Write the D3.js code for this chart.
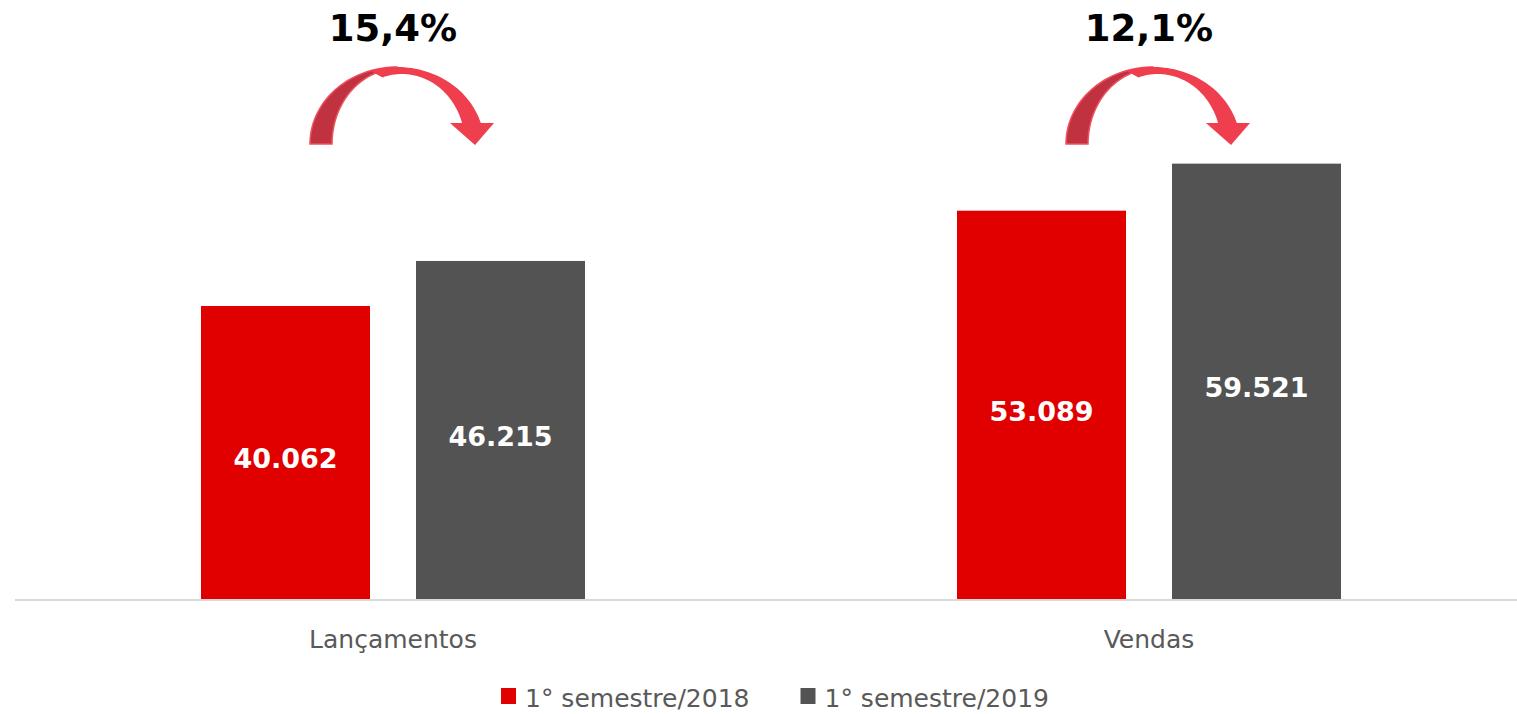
<!doctype html>
<html>
<head>
    <meta charset="UTF-8">
    <title>Lançamentos x Vendas</title>
    <script src="https://d3js.org/d3.v7.min.js"></script>
    <style>
        body { margin: 0; background: #fff; }
        svg text { font-family: Tahoma, "DejaVu Sans", sans-serif; }
    </style>
</head>
<body>
  <svg width="1517" height="714"></svg>
   <script>
       // data
       var categories = ["Lançamentos", "Vendas"];
       var series = ["1° semestre/2018", "1° semestre/2019"];
       var values2018 = [40062, 53089];
       var values2019 = [46215, 59521];
       var growth = ["15,4%", "12,1%"];
       var colors = ["#e10000", "#535353"];

       var svg = d3.select("svg");
       var fmt = function(v){
           return d3.format(",")(v).replace(/,/g, ".");
       };

       var x0 = d3.scaleBand().domain(categories).range([15, 1527]).padding(0);
       var x1 = d3.scaleBand().domain(series).range([186, 570]).paddingInner(0.214);
       var y = d3.scaleLinear().domain([0, 70000]).range([599, 87]);

       var rows = categories.map(function(c, i){
           return {cat: c, vals: [
               {s: series[0], v: values2018[i], c: colors[0]},
               {s: series[1], v: values2019[i], c: colors[1]}
           ]};
       });

       // axis line
       svg.append("line")
          .attr("x1", 15).attr("x2", 1517)
          .attr("y1", y(0) + 1).attr("y2", y(0) + 1)
          .attr("stroke", "#d9d9d9").attr("stroke-width", 2);

       var g = svg.selectAll("g.cat").data(rows).enter()
          .append("g").attr("class", "cat")
          .attr("transform", function(d){ return "translate(" + x0(d.cat) + ",0)"; });

       g.selectAll("rect").data(function(d){ return d.vals; }).enter()
          .append("rect")
          .attr("x", function(d){ return x1(d.s); })
          .attr("y", function(d){ return y(d.v); })
          .attr("width", x1.bandwidth())
          .attr("height", function(d){ return y(0) - y(d.v); })
          .attr("fill", function(d){ return d.c; });

       g.selectAll("text.val").data(function(d){ return d.vals; }).enter()
          .append("text").attr("class", "val")
          .attr("x", function(d){ return x1(d.s) + x1.bandwidth() / 2; })
          .attr("y", function(d){ return (y(d.v) + y(0)) / 2 + 6; })
          .attr("dy", "0.36em")
          .attr("text-anchor", "middle")
          .attr("font-size", 27).attr("font-weight", "bold")
          .attr("fill", "#fff")
          .text(function(d){ return fmt(d.v); });

       // category labels
       g.append("text")
          .attr("x", x0.bandwidth() / 2)
          .attr("y", 648)
          .attr("text-anchor", "middle")
          .attr("font-size", 25)
          .attr("fill", "#595959")
          .text(function(d){ return d.cat; });

       // growth labels
       g.append("text")
          .attr("x", x0.bandwidth() / 2)
          .attr("y", 41)
          .attr("text-anchor", "middle")
          .attr("font-size", 37).attr("font-weight", "bold")
          .attr("fill", "#000")
          .text(function(d, i){ return growth[i]; });

       // curved arrows
       function ell(cx, rx, ry, t0, t1){
           return d3.range(0, 41).map(function(k){
               var t = t0 + (t1 - t0) * k / 40;
               return [cx + rx * Math.cos(t), -ry * Math.sin(t)];
           });
       }
       var line = d3.line();
       var tHead = Math.asin(21 / 77), tIn = Math.asin(21 / 70);
       var back = ell(0, 87, 77, Math.PI, Math.PI / 2)
           .concat(ell(0, 65, 75, Math.PI / 2, Math.PI));
       var front = ell(0, 87, 77, 0.6 * Math.PI, tHead)
           .concat([[53, -21], [78, 1], [97, -21]].slice(0, 0))
           .concat(ell(5, 63, 70, tIn, 0.6 * Math.PI));
       var head = [[53, -21], [97, -21], [78, 1]];
       var shaftR = 87 * Math.cos(tHead), shaftL = 5 + 63 * Math.cos(tIn);

       var arr = g.append("g")
          .attr("transform", "translate(" + (x0.bandwidth() / 2 + 4) + ",144)");
       arr.append("path")
          .attr("d", line(back) + "Z")
          .attr("fill", "#c0323f").attr("stroke", "#f0505e").attr("stroke-width", 1.5);
       arr.append("path")
          .attr("d", line(front) + "Z")
          .attr("fill", "#ef3e4d");
       arr.append("path")
          .attr("d", line([[shaftL, -21.5], [shaftR, -21.5]].concat([[shaftR, -21], [97, -21], [78, 1], [53, -21], [shaftL, -21]])) + "Z")
          .attr("fill", "#ef3e4d");

       // legend
       var leg = svg.append("g");
       var lx = 0;
       series.forEach(function(s, i){
           var it = leg.append("g").attr("transform", "translate(" + lx + ",0)");
           it.append("rect").attr("x", 0).attr("y", 688).attr("width", 15).attr("height", 16)
             .attr("fill", colors[i]);
           var t = it.append("text").attr("x", 24).attr("y", 707)
             .attr("font-size", 25).attr("fill", "#595959").text(s);
           lx += 24 + t.node().getComputedTextLength() + 51;
       });
       var lw = lx - 51;
       leg.attr("transform", "translate(" + (775 - lw / 2) + ",0)");
    </script>
</body>
</html>
